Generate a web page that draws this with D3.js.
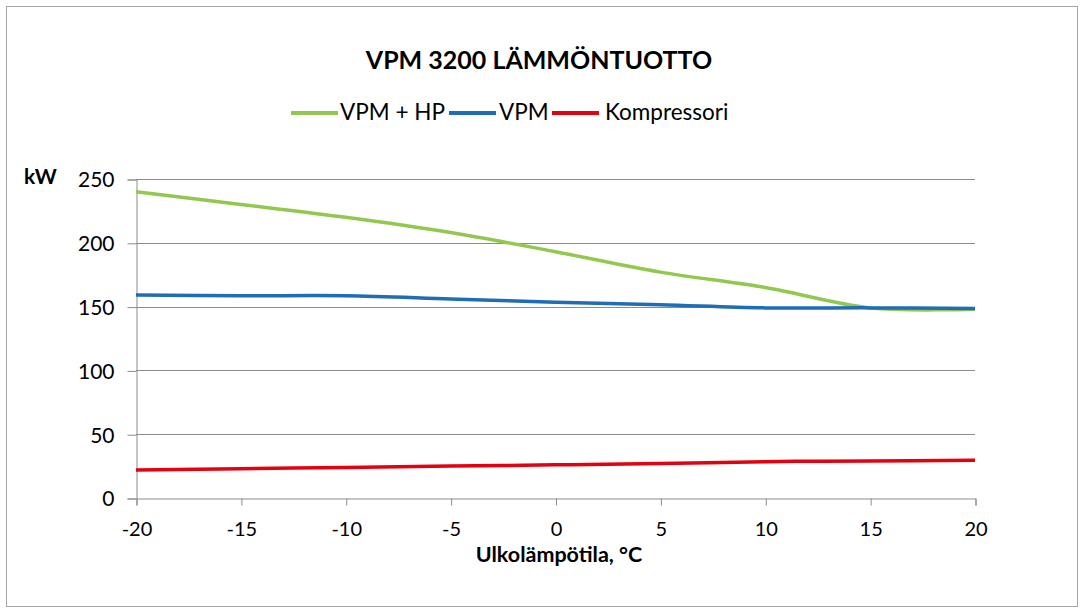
<!DOCTYPE html>
<html>
<head>
<meta charset="utf-8">
<script src="https://cdn.jsdelivr.net/npm/d3@7"></script>
<style>
  body { margin: 0; background: #fff; }
  svg text { font-family: Lato, "Open Sans", sans-serif; fill: #000; }
</style>
</head>
<body>
<svg id="chart" width="1082" height="612"></svg>
<script>
// temperatures, °C
const temps = [-20, -15, -10, -5, 0, 5, 10, 15, 20];
// heat output, kW
const vpmHp = [240, 230, 220, 208, 193, 177, 165, 149, 148];
const vpm = [159, 158.5, 158.5, 156, 153.5, 151.5, 149, 149, 148.5];
const kompressori = [22, 23, 24, 25, 26, 27, 28.5, 29, 29.5];

const xTicks = [-20, -15, -10, -5, 0, 5, 10, 15, 20];
const yTicks = [0, 50, 100, 150, 200, 250];

const seriesNames = ["VPM + HP", "VPM", "Kompressori"];
const seriesColors = ["#92c84f", "#1f6db5", "#e3000f"];
const seriesValues = [vpmHp, vpm, kompressori];

const svg = d3.select("#chart");

// outer frame
svg.append("rect")
  .attr("x", 6.5).attr("y", 6.5)
  .attr("width", 1071).attr("height", 600)
  .attr("fill", "none")
  .attr("stroke", "#a6a6a6");

const x = d3.scaleLinear().domain([-20, 20]).range([136, 975]);
const y = d3.scaleLinear().domain([0, 250]).range([498, 179]);

// grid lines
svg.append("g")
  .selectAll("line")
  .data(yTicks.filter(d => d > 0))
  .join("line")
  .attr("x1", x(-20)).attr("x2", x(20))
  .attr("y1", d => Math.round(y(d)) + 0.5)
  .attr("y2", d => Math.round(y(d)) + 0.5)
  .attr("stroke", "#8c8c8c");

// y axis
const yAxis = svg.append("g")
  .attr("transform", `translate(${x(-20) + 0.5},0.5)`)
  .call(d3.axisLeft(y).tickValues(yTicks).tickSize(9).tickPadding(13));
yAxis.select(".domain").attr("stroke", "#8c8c8c");
yAxis.selectAll(".tick line").attr("stroke", "#8c8c8c");
yAxis.selectAll(".tick text").attr("font-size", 21).attr("dy", "0.35em");

// x axis
const xAxis = svg.append("g")
  .attr("transform", `translate(0.5,${Math.round(y(0)) + 0.5})`)
  .call(d3.axisBottom(x).tickValues(xTicks).tickSize(7).tickPadding(16).tickFormat(d => String(d)));
xAxis.select(".domain").attr("stroke", "#8c8c8c");
xAxis.selectAll(".tick line").attr("stroke", "#8c8c8c");
xAxis.selectAll(".tick text").attr("font-size", 20);

// lines
const line = d3.line()
  .x((d, i) => x(temps[i]))
  .y(d => y(d))
  .curve(d3.curveCatmullRom.alpha(0.5));

svg.append("g")
  .selectAll("path")
  .data(seriesValues)
  .join("path")
  .attr("d", d => line(d))
  .attr("fill", "none")
  .attr("stroke", (d, i) => seriesColors[i])
  .attr("stroke-width", 3.5);

// title
svg.append("text")
  .attr("x", 539).attr("y", 69)
  .attr("text-anchor", "middle")
  .attr("font-size", 25)
  .attr("font-weight", "bold")
  .text("VPM 3200 LÄMMÖNTUOTTO");

// legend
const legendPos = [
  { lx: 291, tx: 340 },
  { lx: 449, tx: 499 },
  { lx: 552, tx: 605 }
];
const legend = svg.append("g")
  .selectAll("g")
  .data(seriesNames)
  .join("g");
legend.append("line")
  .attr("x1", (d, i) => legendPos[i].lx)
  .attr("x2", (d, i) => legendPos[i].lx + 47)
  .attr("y1", 113).attr("y2", 113)
  .attr("stroke", (d, i) => seriesColors[i])
  .attr("stroke-width", 4);
legend.append("text")
  .attr("x", (d, i) => legendPos[i].tx)
  .attr("y", 120)
  .attr("font-size", 22.5)
  .text(d => d);

// axis labels
svg.append("text")
  .attr("x", 24).attr("y", 184)
  .attr("font-size", 21)
  .attr("font-weight", "bold")
  .text("kW");

svg.append("text")
  .attr("x", 559).attr("y", 562)
  .attr("text-anchor", "middle")
  .attr("font-size", 21.5)
  .attr("font-weight", "bold")
  .text("Ulkolämpötila, °C");
</script>
</body>
</html>
